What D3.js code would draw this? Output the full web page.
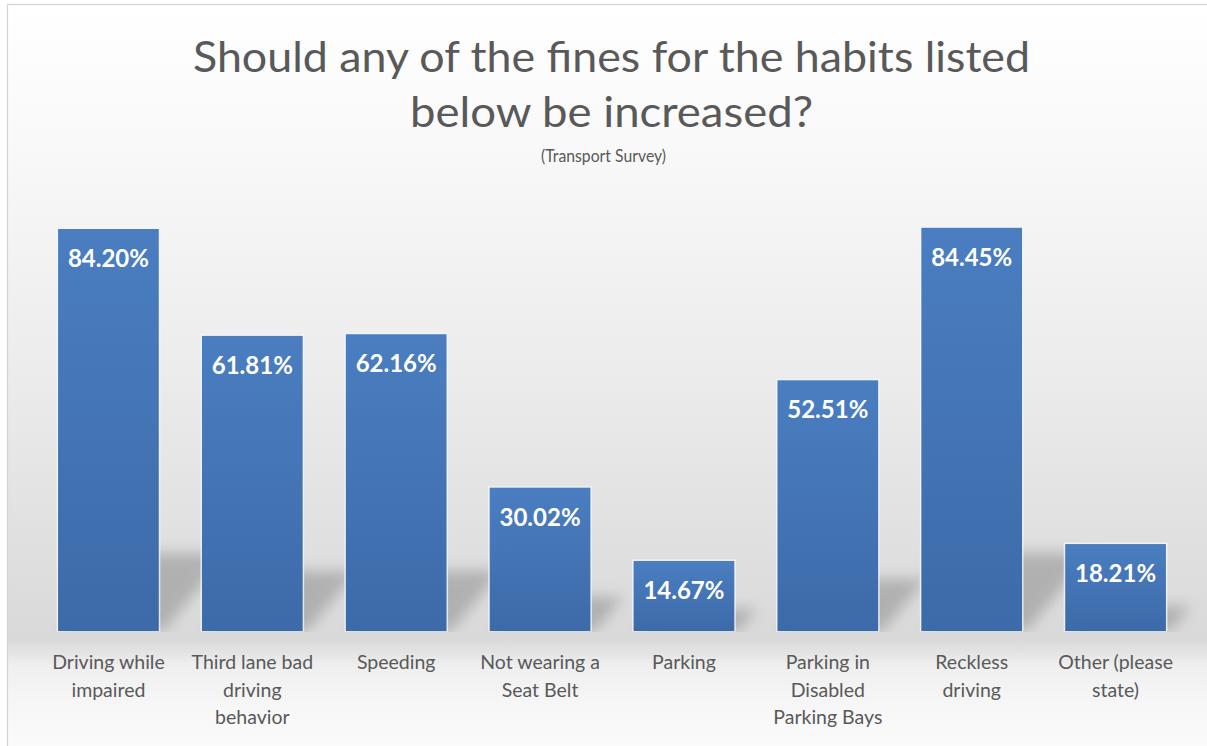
<!DOCTYPE html>
<html>
<head>
<meta charset="utf-8">
<script src="https://cdn.jsdelivr.net/npm/d3@7"></script>
<style>
  html, body { margin: 0; padding: 0; background: #ffffff; }
  svg { display: block; }
</style>
</head>
<body>
<svg id="chart" width="1207" height="746"></svg>
<script>
// ---- data ----
const categories = [
  "Driving while\nimpaired",
  "Third lane bad\ndriving\nbehavior",
  "Speeding",
  "Not wearing a\nSeat Belt",
  "Parking",
  "Parking in\nDisabled\nParking Bays",
  "Reckless\ndriving",
  "Other (please\nstate)"
];
const values = [84.20, 61.81, 62.16, 30.02, 14.67, 52.51, 84.45, 18.21];
const valueLabels = ["84.20%", "61.81%", "62.16%", "30.02%", "14.67%", "52.51%", "84.45%", "18.21%"];
const titleLines = ["Should any of the fines for the habits listed", "below be increased?"];
const subtitle = "(Transport Survey)";

// ---- layout ----
const W = 1207, H = 746;
const svg = d3.select("#chart");
const defs = svg.append("defs");

// chart background gradient
const bg = defs.append("linearGradient").attr("id", "bgGrad")
  .attr("x1", 0).attr("y1", 0).attr("x2", 0).attr("y2", 1);
[[0, "#ffffff"], [0.18, "#f9f9f9"], [0.5, "#ebebeb"], [0.84, "#d9d9d9"],
 [0.875, "#efefef"], [0.93, "#f7f7f7"], [1, "#fcfcfc"]]
  .forEach(([o, c]) => bg.append("stop").attr("offset", o).attr("stop-color", c));

const barGrad = defs.append("linearGradient").attr("id", "barGrad")
  .attr("x1", 0).attr("y1", 0).attr("x2", 0).attr("y2", 1);
barGrad.append("stop").attr("offset", 0).attr("stop-color", "#4a7ec0");
barGrad.append("stop").attr("offset", 1).attr("stop-color", "#3d6aa9");

const blur = defs.append("filter").attr("id", "shadowBlur")
  .attr("x", "-50%").attr("y", "-50%").attr("width", "200%").attr("height", "200%");
blur.append("feGaussianBlur").attr("stdDeviation", 7);

svg.append("rect").attr("x", 0).attr("y", 0).attr("width", W).attr("height", H).attr("fill", "#ffffff");
svg.append("rect").attr("x", 7.5).attr("y", 4.5).attr("width", W + 10).attr("height", H + 10)
  .attr("fill", "url(#bgGrad)").attr("stroke", "#d4d4d4").attr("stroke-width", 1.2);

// scales
const x = d3.scaleBand().domain(categories).range([36.5, 1187.5])
  .paddingInner(0.3).paddingOuter(0.15);
const y = d3.scaleLinear().domain([0, 90]).range([631, 201.3]);
const base = y(0);

// clip for shadows (not below baseline)
defs.append("clipPath").attr("id", "plotClip")
  .append("rect").attr("x", 0).attr("y", 0).attr("width", W).attr("height", base + 1);

// shadows (perspective, skewed up-right)
const shadowG = svg.append("g").attr("clip-path", "url(#plotClip)");
shadowG.selectAll("polygon").data(values).join("polygon")
  .attr("points", (d, i) => {
    const h = base - y(d);
    const sh = h * 0.17 + 10, dx = sh * 0.85, ox = 4;
    const x0 = x(categories[i]) + ox, x1 = x0 + x.bandwidth();
    return [[x0, base], [x1, base], [x1 + dx, base - sh], [x0 + dx, base - sh]].map(p => p.join(",")).join(" ");
  })
  .attr("fill", "#6a6a6a").attr("opacity", 0.38)
  .attr("filter", "url(#shadowBlur)");

// bar glow edge
svg.append("g").selectAll("rect").data(values).join("rect")
  .attr("x", (d, i) => x(categories[i]) - 1.5)
  .attr("y", d => y(d) - 1.5)
  .attr("width", x.bandwidth() + 3)
  .attr("height", d => base - y(d) + 2)
  .attr("fill", "#f3f6fb").attr("opacity", 0.8);

// bars
svg.append("g").selectAll("rect").data(values).join("rect")
  .attr("x", (d, i) => x(categories[i]))
  .attr("y", d => y(d))
  .attr("width", x.bandwidth())
  .attr("height", d => base - y(d))
  .attr("fill", "url(#barGrad)");

// value labels
svg.append("g").selectAll("text").data(values).join("text")
  .attr("x", (d, i) => x(categories[i]) + x.bandwidth() / 2)
  .attr("y", d => y(d) + 38)
  .attr("text-anchor", "middle")
  .attr("font-family", "Lato, 'Open Sans', sans-serif")
  .attr("font-weight", "bold")
  .attr("font-size", 24)
  .attr("fill", "#ffffff")
  .text((d, i) => valueLabels[i]);

// category axis
const axis = svg.append("g").attr("transform", `translate(0,${base})`)
  .call(d3.axisBottom(x).tickSize(0).tickPadding(0));
axis.select(".domain").remove();
axis.selectAll(".tick text").each(function(d) {
  const t = d3.select(this);
  const lines = d.split("\n");
  t.text(null)
    .attr("font-family", "Lato, 'Open Sans', sans-serif")
    .attr("font-size", 19.5)
    .attr("fill", "#595959")
    .attr("y", 0).attr("dy", null);
  lines.forEach((ln, k) => {
    t.append("tspan").attr("x", 0).attr("y", 38 + k * 27.5).text(ln);
  });
});

// title
const titleG = svg.append("g")
  .attr("font-family", "Lato, 'Open Sans', sans-serif")
  .attr("fill", "#595959")
  .attr("text-anchor", "middle");
titleG.append("text").attr("x", 611.5).attr("y", 72).attr("font-size", 42)
  .attr("textLength", 837).attr("lengthAdjust", "spacingAndGlyphs").text(titleLines[0]);
titleG.append("text").attr("x", 611.5).attr("y", 127).attr("font-size", 42)
  .attr("textLength", 403).attr("lengthAdjust", "spacingAndGlyphs").text(titleLines[1]);
titleG.append("text").attr("x", 603.5).attr("y", 162).attr("font-size", 17)
  .attr("textLength", 125).attr("lengthAdjust", "spacingAndGlyphs").text(subtitle);
</script>
</body>
</html>
